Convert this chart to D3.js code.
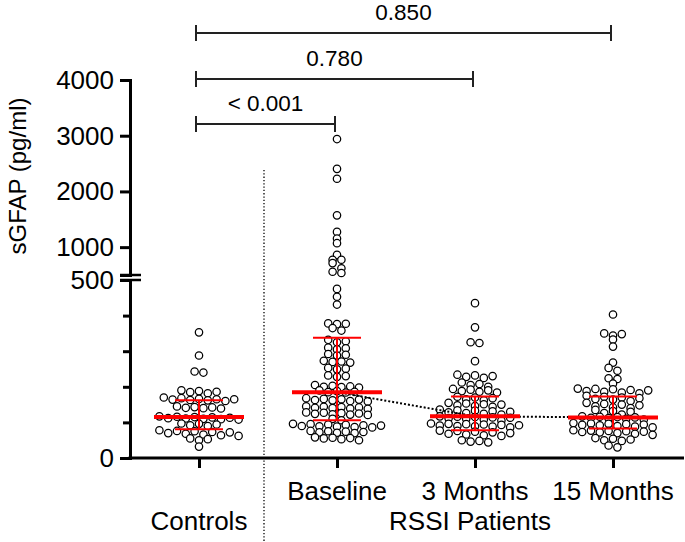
<!DOCTYPE html>
<html><head><meta charset="utf-8">
<script src="https://cdn.jsdelivr.net/npm/d3@7"></script>
<style>body{margin:0;background:#fff}svg{display:block}text{font-family:"Liberation Sans",Arial,Helvetica,sans-serif;fill:#000}</style>
</head><body>
<svg id="c" width="685" height="542"></svg>
<script>
const categories = ["Controls","Baseline","3 Months","15 Months"];
const controls = [353,288,243,240,190,188,186,185,182,170,168,166,165,165,164,163,162,160,145,143,142,141,140,139,117,116,115,114,113,112,111,110,109,108,97,96,94,92,90,78,76,75,73,72,70,68,66,64,62,55,53,50,32];
const baseline = [2940,2405,2227,1571,1273,1155,1071,862,773,773,714,620,559,536,475,453,431,378,377,376,365,358,332,328,325,310,308,305,292,290,288,273,271,270,268,253,251,249,232,230,228,205,203,201,200,199,198,190,188,186,185,184,168,166,165,164,163,162,160,159,145,144,143,142,141,140,139,138,128,127,126,125,124,123,122,121,110,106,96,95,94,93,92,91,90,89,88,87,86,76,75,74,73,72,71,70,58,57,56,55,53,50];
const months3 = [435,367,325,323,272,234,232,230,228,225,212,208,205,200,194,192,190,188,186,184,172,170,168,165,162,155,153,151,150,148,146,144,136,134,133,131,130,128,126,124,122,117,116,115,114,113,112,110,108,105,97,96,95,94,93,92,91,90,89,88,86,77,76,74,72,70,68,66,64,62,50,48,46,44];
const months15 = [403,350,348,344,333,313,268,253,245,224,222,209,195,194,193,191,190,188,186,184,182,175,172,170,168,166,164,160,155,152,150,148,145,142,140,135,132,130,126,122,117,116,115,114,113,112,110,108,98,97,96,95,94,93,92,90,88,86,78,77,76,75,74,73,72,70,68,65,56,54,52,50,48,35,30];
const medians = [115,185,117,114];
const q1s = [81,106,78,83];
const q3s = [162,338,173,173];
const pLabels = ["< 0.001","0.780","0.850"];
const pTargets = ["Baseline","3 Months","15 Months"];
const lowTicks = [0,100,200,300,400,500];
const lowLabels = [0,500];
const highTicks = [1000,2000,3000,4000];
const axisTitle = "sGFAP (pg/ml)";
const groupTitles = [{text:"Controls", at:["Controls"], dx:0},{text:"RSSI Patients", at:["Baseline","3 Months","15 Months"], dx:-5}];

const groups = [controls, baseline, months3, months15];
const svg = d3.select("#c");

const x = d3.scalePoint().domain(categories).range([199, 613]);
const yLow = d3.scaleLinear().domain([0,500]).range([458,280]);
const yHigh = d3.scaleLinear().domain([500,4000]).range([275,80]);
const y = v => v <= 500 ? yLow(v) : yHigh(v);

// dotted separator
svg.append("line").attr("x1",264).attr("x2",264).attr("y1",170).attr("y2",542)
  .attr("stroke","#000").attr("stroke-width",1.3).attr("stroke-dasharray","1.3,2");

// Prism-like row layout: bin by pixel rows, centre each row
function rows(values, rowH, d){
  const bins = d3.group(values.map(v=>({v, y:y(v)})), p=>Math.floor((yLow(0)-p.y)/rowH));
  const out=[];
  for(const [k, pts] of bins){
    pts.sort((a,b)=>b.v-a.v);
    const n=pts.length;
    const order=[];
    for(let i=0;i<n;i+=2) order.push(i);
    for(let i=1;i<n;i+=2) order.push(i);
    pts.forEach((p,j)=>{ p.x=(order[j]-(n-1)/2)*d; out.push(p); });
  }
  return out;
}

groups.forEach((vals,i)=>{
  const cx = x(categories[i]);
  const pts = rows(vals, 7, 8.8);
  svg.append("g").selectAll("circle").data(pts).join("circle")
    .attr("cx",d=>cx+d.x).attr("cy",d=>d.y).attr("r",3.7)
    .attr("fill","#fff").attr("stroke","#000").attr("stroke-width",1.25);
});

// connecting dotted line through patient medians
const lineData = [1,2,3].map(i=>[x(categories[i]), y(medians[i])]);
svg.append("path").attr("d", d3.line()(lineData)).attr("fill","none")
  .attr("stroke","#000").attr("stroke-width",2).attr("stroke-dasharray","2,2");

// median & IQR
categories.forEach((c,i)=>{
  const cx=x(c); const g=svg.append("g").attr("stroke","#ff0000");
  g.append("line").attr("x1",cx).attr("x2",cx).attr("y1",y(q1s[i])).attr("y2",y(q3s[i])).attr("stroke-width",2);
  g.append("line").attr("x1",cx-24).attr("x2",cx+24).attr("y1",y(q1s[i])).attr("y2",y(q1s[i])).attr("stroke-width",2);
  g.append("line").attr("x1",cx-24).attr("x2",cx+24).attr("y1",y(q3s[i])).attr("y2",y(q3s[i])).attr("stroke-width",2);
  g.append("line").attr("x1",cx-45).attr("x2",cx+45).attr("y1",y(medians[i])).attr("y2",y(medians[i])).attr("stroke-width",4);
});

// Y axes
const fmt = d3.format("d");
const axLow = svg.append("g").attr("transform","translate(130,0)")
  .call(d3.axisLeft(yLow).tickValues(lowTicks).tickSizeOuter(0).tickSize(10).tickPadding(6)
    .tickFormat(d=>lowLabels.includes(d)?fmt(d):""));
axLow.selectAll(".tick line").attr("x2",d=>lowLabels.includes(d)?-10:-7);
const axHigh = svg.append("g").attr("transform","translate(130,0)")
  .call(d3.axisLeft(yHigh).tickValues(highTicks).tickSizeOuter(0).tickSize(10).tickPadding(6).tickFormat(fmt));
[axLow,axHigh].forEach(a=>{
  a.select(".domain").attr("stroke-width",3);
  a.selectAll(".tick line").attr("stroke-width",3);
  a.selectAll("text").attr("font-size",26).attr("font-family","Liberation Sans, Arial, sans-serif");
});
// break marks
[275,280].forEach(yy=>svg.append("line").attr("x1",120).attr("x2",141).attr("y1",yy).attr("y2",yy).attr("stroke","#000").attr("stroke-width",2.5));

// X axis
const ax = svg.append("g").attr("transform","translate(0,458)")
  .call(d3.axisBottom(x).tickSizeOuter(0).tickSize(10).tickFormat(""));
ax.select(".domain").remove();
ax.selectAll(".tick line").attr("stroke-width",3);
svg.append("line").attr("x1",128.5).attr("x2",684).attr("y1",458).attr("y2",458).attr("stroke","#000").attr("stroke-width",3);

// category labels
categories.slice(1).forEach(c=>svg.append("text").attr("x",x(c)).attr("y",500).attr("text-anchor","middle").attr("font-size",26).text(c));
groupTitles.forEach(g=>{
  const cx = d3.mean(g.at, c=>x(c)) + g.dx;
  svg.append("text").attr("x",cx).attr("y",530).attr("text-anchor","middle").attr("font-size",26).text(g.text);
});

// y title
svg.append("text").attr("transform","translate(26,176) rotate(-90)").attr("text-anchor","middle").attr("font-size",24).text(axisTitle);

// significance brackets
const bracketY=[124,79,33];
pTargets.forEach((t,i)=>{
  const x1=x("Controls")-3, x2=x(t)-2, yy=bracketY[i];
  const g=svg.append("g").attr("stroke","#222").attr("stroke-width",2);
  g.append("line").attr("x1",x1).attr("x2",x2).attr("y1",yy).attr("y2",yy);
  g.append("line").attr("x1",x1).attr("x2",x1).attr("y1",yy-8).attr("y2",yy+8);
  g.append("line").attr("x1",x2).attr("x2",x2).attr("y1",yy-8).attr("y2",yy+8);
  svg.append("text").attr("x",(x1+x2)/2).attr("y",yy-13.5).attr("text-anchor","middle").attr("font-size",22.5).text(pLabels[i]);
});
</script>
</body></html>
